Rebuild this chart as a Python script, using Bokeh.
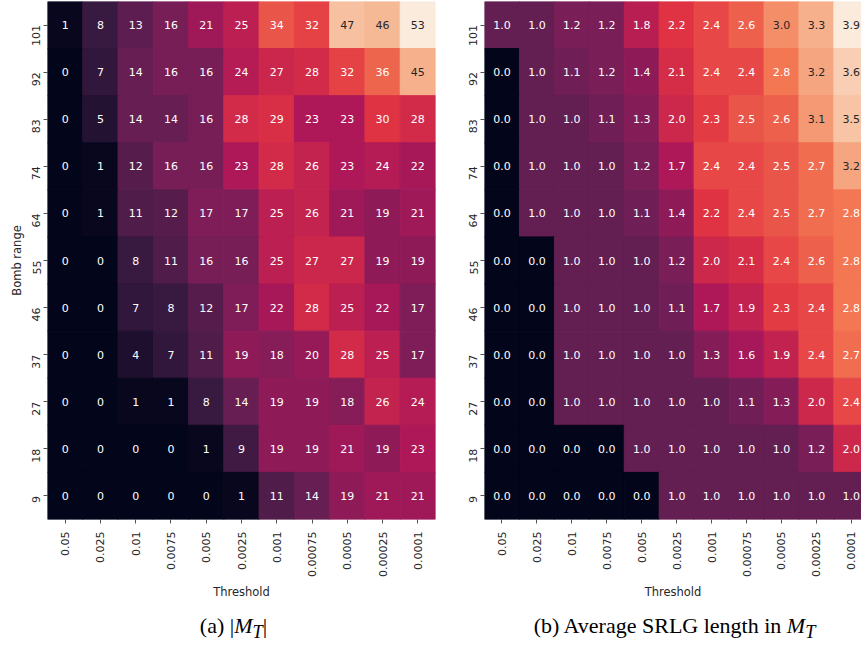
import math
import numpy as np
from bokeh.plotting import figure
from bokeh.models import ColumnDataSource, LinearColorMapper, FixedTicker, Div
from bokeh.transform import transform
from bokeh.layouts import row, column
from bokeh.core.properties import value
from bokeh.embed import file_html
from bokeh.resources import INLINE

# ---------------- data ----------------
thresholds = ["0.05", "0.025", "0.01", "0.0075", "0.005", "0.0025",
              "0.001", "0.00075", "0.0005", "0.00025", "0.0001"]
bomb_ranges = ["101", "92", "83", "74", "64", "55", "46", "37", "27", "18", "9"]  # top -> bottom

# (a) |M_T|
mt_101 = [1, 8, 13, 16, 21, 25, 34, 32, 47, 46, 53]
mt_92 = [0, 7, 14, 16, 16, 24, 27, 28, 32, 36, 45]
mt_83 = [0, 5, 14, 14, 16, 28, 29, 23, 23, 30, 28]
mt_74 = [0, 1, 12, 16, 16, 23, 28, 26, 23, 24, 22]
mt_64 = [0, 1, 11, 12, 17, 17, 25, 26, 21, 19, 21]
mt_55 = [0, 0, 8, 11, 16, 16, 25, 27, 27, 19, 19]
mt_46 = [0, 0, 7, 8, 12, 17, 22, 28, 25, 22, 17]
mt_37 = [0, 0, 4, 7, 11, 19, 18, 20, 28, 25, 17]
mt_27 = [0, 0, 1, 1, 8, 14, 19, 19, 18, 26, 24]
mt_18 = [0, 0, 0, 0, 1, 9, 19, 19, 21, 19, 23]
mt_9 = [0, 0, 0, 0, 0, 1, 11, 14, 19, 21, 21]

# (b) Average SRLG length in M_T
sl_101 = [1.0, 1.0, 1.2, 1.2, 1.8, 2.2, 2.4, 2.6, 3.0, 3.3, 3.9]
sl_92 = [0.0, 1.0, 1.1, 1.2, 1.4, 2.1, 2.4, 2.4, 2.8, 3.2, 3.6]
sl_83 = [0.0, 1.0, 1.0, 1.1, 1.3, 2.0, 2.3, 2.5, 2.6, 3.1, 3.5]
sl_74 = [0.0, 1.0, 1.0, 1.0, 1.2, 1.7, 2.4, 2.4, 2.5, 2.7, 3.2]
sl_64 = [0.0, 1.0, 1.0, 1.0, 1.1, 1.4, 2.2, 2.4, 2.5, 2.7, 2.8]
sl_55 = [0.0, 0.0, 1.0, 1.0, 1.0, 1.2, 2.0, 2.1, 2.4, 2.6, 2.8]
sl_46 = [0.0, 0.0, 1.0, 1.0, 1.0, 1.1, 1.7, 1.9, 2.3, 2.4, 2.8]
sl_37 = [0.0, 0.0, 1.0, 1.0, 1.0, 1.0, 1.3, 1.6, 1.9, 2.4, 2.7]
sl_27 = [0.0, 0.0, 1.0, 1.0, 1.0, 1.0, 1.0, 1.1, 1.3, 2.0, 2.4]
sl_18 = [0.0, 0.0, 0.0, 0.0, 1.0, 1.0, 1.0, 1.0, 1.0, 1.2, 2.0]
sl_9 = [0.0, 0.0, 0.0, 0.0, 0.0, 1.0, 1.0, 1.0, 1.0, 1.0, 1.0]

mt_rows = [mt_101, mt_92, mt_83, mt_74, mt_64, mt_55, mt_46, mt_37, mt_27, mt_18, mt_9]
sl_rows = [sl_101, sl_92, sl_83, sl_74, sl_64, sl_55, sl_46, sl_37, sl_27, sl_18, sl_9]

# ---------------- "rocket" colour map ----------------
_stops = [(0.0, "#03051A"), (1 / 7, "#35193E"), (2 / 7, "#701F57"), (3 / 7, "#AD1759"),
          (4 / 7, "#E13342"), (5 / 7, "#F37651"), (6 / 7, "#F6B48F"), (1.0, "#FAEBDD")]


def _hex2rgb(h):
    return np.array([int(h[i:i + 2], 16) for i in (1, 3, 5)], dtype=float)


_pos = np.array([s[0] for s in _stops])
_rgb = np.array([_hex2rgb(s[1]) for s in _stops])
ROCKET = []
for t in np.linspace(0, 1, 256):
    c = [np.interp(t, _pos, _rgb[:, k]) for k in range(3)]
    ROCKET.append("#%02x%02x%02x" % tuple(int(round(v)) for v in c))


def text_color(v, lo, hi):
    idx = int((v - lo) / (hi - lo) * 256)
    idx = min(max(idx, 0), 255)
    rgb = _hex2rgb(ROCKET[idx]) / 255.0
    lin = np.where(rgb <= 0.03928, rgb / 12.92, ((rgb + 0.055) / 1.055) ** 2.4)
    lum = 0.2126 * lin[0] + 0.7152 * lin[1] + 0.0722 * lin[2]
    return "#262626" if lum > 0.38 else "#ffffff"


FRAME_H = 518
FONT = "DejaVu Sans"
INK = "#262626"


def make_panel(rows, fmt, frame_w, x_end, min_left, min_right, ylabel):
    vals = np.array(rows, dtype=float)
    lo, hi = float(vals.min()), float(vals.max())
    mapper = LinearColorMapper(palette=ROCKET, low=lo, high=hi)
    n = len(bomb_ranges)
    xs, ys, vs, labels, tcs = [], [], [], [], []
    for r, rv in enumerate(rows):
        for c, v in enumerate(rv):
            xs.append(c)
            ys.append(n - 1 - r)
            vs.append(v)
            labels.append(fmt % v)
            tcs.append(text_color(v, lo, hi))
    src = ColumnDataSource(dict(x=xs, y=ys, v=vs, label=labels, tc=tcs))

    p = figure(frame_width=frame_w, frame_height=FRAME_H,
               x_range=(-0.5, x_end), y_range=(-0.5, n - 0.5),
               output_backend="svg", toolbar_location=None,
               min_border_left=min_left, min_border_right=min_right,
               min_border_top=1, min_border_bottom=78)
    p.rect(x="x", y="y", width=1, height=1, source=src,
           fill_color=transform("v", mapper), line_color=transform("v", mapper), line_width=1)
    p.text(x="x", y="y", text="label", source=src, text_color="tc",
           text_align="center", text_baseline="middle",
           text_font=value(FONT), text_font_size="11px")

    p.grid.visible = False
    p.outline_line_color = None
    p.xaxis.ticker = FixedTicker(ticks=list(range(len(thresholds))))
    p.xaxis.major_label_overrides = {i: t for i, t in enumerate(thresholds)}
    p.yaxis.ticker = FixedTicker(ticks=list(range(n)))
    p.yaxis.major_label_overrides = {n - 1 - r: b for r, b in enumerate(bomb_ranges)}
    p.xaxis.major_label_orientation = math.pi / 2
    p.yaxis.major_label_orientation = math.pi / 2
    for ax in (p.xaxis[0], p.yaxis[0]):
        ax.axis_line_color = None
        ax.minor_tick_line_color = None
        ax.major_tick_in = 0
        ax.major_tick_out = 4
        ax.major_tick_line_color = INK
        ax.major_tick_line_width = 0.8
        ax.major_label_text_font = FONT
        ax.major_label_text_font_size = "11px"
        ax.major_label_text_color = INK
        ax.axis_label_text_font = FONT
        ax.axis_label_text_font_size = "11.5px"
        ax.axis_label_text_font_style = "normal"
        ax.axis_label_text_color = INK
    p.xaxis.major_label_standoff = 8
    p.xaxis.axis_label_standoff = 5
    p.yaxis.major_label_standoff = 7
    p.yaxis.axis_label_standoff = 2
    p.xaxis.axis_label = "Threshold"
    if ylabel:
        p.yaxis.axis_label = ylabel
    return p


p1 = make_panel(mt_rows, "%d", 388, 10.5, 47, 25, "Bomb range")
p2 = make_panel(sl_rows, "%.1f", 377, 10.29, 24, 0, None)

cap_style = ("font-family:'Liberation Serif',serif;font-size:22px;color:#000;text-align:center;"
             "padding-top:8px;white-space:nowrap;box-sizing:border-box;line-height:24px;")
div_a = Div(text='<div style="%swidth:460px;padding-right:3px;">(a) |<i>M</i><sub><i>T</i></sub>|</div>' % cap_style,
            width=460, height=34)
div_b = Div(text='<div style="%swidth:401px;padding-right:2px;">(b) Average SRLG length in <i>M</i><sub><i>T</i></sub></div>' % cap_style,
            width=401, height=34)

layout = column(row(p1, p2), row(div_a, div_b))

open("out.html", "w").write(file_html(layout, INLINE))
